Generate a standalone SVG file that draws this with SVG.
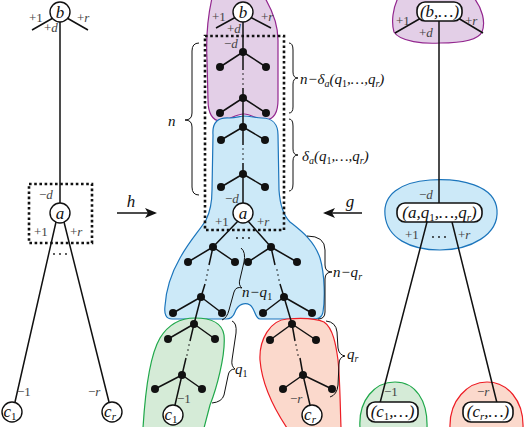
<svg xmlns="http://www.w3.org/2000/svg" width="524" height="427" viewBox="0 0 524 427">
<defs>
<style>
.e{stroke:#111;stroke-width:1.5;fill:none}
.c{fill:#fff;stroke:#111;stroke-width:1.4}
.d{fill:#111}
.box{fill:none;stroke:#111;stroke-width:2.6;stroke-dasharray:2.6 2.6}
.br{fill:none;stroke:#111;stroke-width:1}
.n{font-family:"Liberation Serif",serif;font-style:italic;font-size:17px;fill:#111;text-anchor:middle}
.l{font-family:"Liberation Serif",serif;font-size:13px;fill:#444}
.li{font-style:italic}
.t{font-family:"Liberation Serif",serif;font-style:italic;font-size:15px;fill:#111}
.rb{fill:#fff;stroke:#111;stroke-width:1.6}
</style>
<marker id="ah" viewBox="0 0 12 10" refX="10" refY="5" markerWidth="12" markerHeight="10" markerUnits="userSpaceOnUse" orient="auto">
<path d="M0,0 L12,5 L0,10 L3,5 Z" fill="#111"/>
</marker>
</defs>
<rect width="524" height="427" fill="#fff"/>

<g id="regions">
<path d="M212,-2 C207,20 206,40 207,60 L208,100 C208,112 212,122 222,121 C230,120 235,114 244,114 C252,114 258,121 266,120 C274,119 278,112 278,100 L278,40 C278,25 272,10 265,-2 Z" fill="#e3cfe7" stroke="#93278f" stroke-width="1.2"/>
<path d="M213,135 C212,122 218,117 230,118 C236,118 240,116 244,116 C250,116 256,118 262,118 C272,118 278,124 278,135 L279,190 C280,205 283,215 290,222 C300,230 314,240 320,258 C325,275 325,300 323,312 C322,318 318,319 312,319 L260,319 C255,319 255,308 250,305 C245,302 238,304 235,312 C233,318 230,319 226,319 L172,319 C166,319 164,314 165,306 C166,290 172,272 180,258 C190,240 200,230 206,220 C211,210 212,200 212,190 Z" fill="#cce9f8" stroke="#1b75bc" stroke-width="1.2"/>
<path d="M143,428 C145,395 150,355 160,338 C168,325 180,318 195,318 C210,318 222,322 224,335 C226,355 216,390 210,405 L204,428 Z" fill="#d5ebd7" stroke="#1fa84a" stroke-width="1.2"/>
<path d="M287,428 C275,410 262,385 260,360 C259,340 270,320 287,319 C300,318 315,318 324,322 C333,328 336,345 338,360 C340,380 340,400 341,428 Z" fill="#fbd9cc" stroke="#ed1c24" stroke-width="1.2"/>
<path d="M398,-2 C393,8 391,22 394,32 C400,42 425,44 440,43 C460,43 478,40 482,32 C486,22 482,8 474,-2 Z" fill="#e3cfe7" stroke="#93278f" stroke-width="1.2"/>
<path d="M385,215 C383,195 400,182 430,180 C460,178 495,185 497,210 C499,235 470,250 440,250 C410,250 387,238 385,215 Z" fill="#cce9f8" stroke="#1b75bc" stroke-width="1.2"/>
<path d="M360,428 C358,400 375,382 395,382 C415,382 428,400 427,428 Z" fill="#d5ebd7" stroke="#1fa84a" stroke-width="1.2"/>
<path d="M450,428 C449,400 468,382 487,382 C507,382 524,400 523,428 Z" fill="#fbd9cc" stroke="#ed1c24" stroke-width="1.2"/>
</g>

<g id="connectors">
<path class="e" d="M60,22 L60,203 M53,18 L32,30 M67,18 L88,30 M56,222 L15,402 M64,222 L109,402"/>
<path class="e" d="M243,22 L243,70 M243,88 L243,145 M243,163 L243,203"/>
<path class="e" d="M236,17 L216,28 M250,17 L271,28"/>
<path class="e" d="M243,52 L220,67 M243,52 L266,67 M243,98 L220,113 M243,98 L266,113 M243,127 L221,140 M243,127 L265,140 M243,174 L221,187 M243,174 L265,187"/>
<path class="e" d="M238,221 L213,247 M213,247 L188,262 M213,247 L235,262 M213,247 L209,265 M205,284 L201,297 M201,297 L173,313 M201,297 L222,313 M201,297 L194,324 M194,324 L168,339 M194,324 L215,339 M194,324 L190,341 M186,358 L182,375 M182,375 L155,389 M182,375 L202,389 M182,375 L175,405"/>
<path class="e" d="M248,221 L271,247 M271,247 L248,262 M271,247 L297,262 M271,247 L275,265 M280,284 L284,297 M284,297 L263,313 M284,297 L312,313 M284,297 L292,324 M292,324 L270,340 M292,324 L316,340 M292,324 L295,341 M300,358 L303,375 M303,375 L283,389 M303,375 L332,389 M303,375 L310,405"/>
<path class="e" d="M439,21 L439,203 M421,18 L395,33 M458,18 L483,33 M427,222 L380,403 M452,222 L497,403"/>
<path class="e" d="M117,213 L155,213" marker-end="url(#ah)"/>
<path class="e" d="M362,213 L325,213" marker-end="url(#ah)"/>
</g>

<g id="inner-nodes" class="d">
<circle cx="243" cy="52" r="4"/><circle cx="220" cy="67" r="4"/><circle cx="266" cy="67" r="4"/>
<circle cx="243" cy="98" r="4"/><circle cx="220" cy="113" r="4"/><circle cx="266" cy="113" r="4"/>
<circle cx="243" cy="127" r="4"/><circle cx="221" cy="140" r="4"/><circle cx="265" cy="140" r="4"/>
<circle cx="243" cy="174" r="4"/><circle cx="221" cy="187" r="4"/><circle cx="265" cy="187" r="4"/>
<circle cx="213" cy="247" r="4"/><circle cx="188" cy="262" r="4"/><circle cx="235" cy="262" r="4"/>
<circle cx="201" cy="297" r="4"/><circle cx="173" cy="313" r="4"/><circle cx="222" cy="313" r="4"/>
<circle cx="194" cy="324" r="4"/><circle cx="168" cy="339" r="4"/><circle cx="215" cy="339" r="4"/>
<circle cx="182" cy="375" r="4"/><circle cx="155" cy="389" r="4"/><circle cx="202" cy="389" r="4"/>
<circle cx="271" cy="247" r="4"/><circle cx="248" cy="262" r="4"/><circle cx="297" cy="262" r="4"/>
<circle cx="284" cy="297" r="4"/><circle cx="263" cy="313" r="4"/><circle cx="312" cy="313" r="4"/>
<circle cx="292" cy="324" r="4"/><circle cx="270" cy="340" r="4"/><circle cx="316" cy="340" r="4"/>
<circle cx="303" cy="375" r="4"/><circle cx="283" cy="389" r="4"/><circle cx="332" cy="389" r="4"/>
</g>
<g id="vdots" class="d">
<circle cx="243" cy="74" r="0.8"/><circle cx="243" cy="79" r="0.8"/><circle cx="243" cy="84" r="0.8"/>
<circle cx="243" cy="149" r="0.8"/><circle cx="243" cy="154" r="0.8"/><circle cx="243" cy="159" r="0.8"/>
<circle cx="208" cy="270" r="0.8"/><circle cx="207" cy="275" r="0.8"/><circle cx="206" cy="280" r="0.8"/>
<circle cx="189" cy="345" r="0.8"/><circle cx="188" cy="350" r="0.8"/><circle cx="187" cy="355" r="0.8"/>
<circle cx="277" cy="270" r="0.8"/><circle cx="278" cy="275" r="0.8"/><circle cx="279" cy="280" r="0.8"/>
<circle cx="296" cy="345" r="0.8"/><circle cx="297" cy="350" r="0.8"/><circle cx="298" cy="355" r="0.8"/>
<circle cx="54" cy="254" r="0.9"/><circle cx="60" cy="254" r="0.9"/><circle cx="66" cy="254" r="0.9"/>
<circle cx="237" cy="238" r="0.9"/><circle cx="243" cy="238" r="0.9"/><circle cx="249" cy="238" r="0.9"/>
<circle cx="433" cy="237" r="0.9"/><circle cx="439" cy="237" r="0.9"/><circle cx="445" cy="237" r="0.9"/>
</g>

<rect class="box" x="29" y="184" width="63" height="59"/>
<rect class="box" x="205" y="36" width="79" height="194"/>

<g id="braces" class="br">
<path d="M199,43 Q192,43 192,51 L192,113 Q192,120 185,120 Q192,120 192,127 L192,187 Q192,195 199,195"/>
<path d="M289,43 Q293,43 293,50 L293,72 Q293,78 298,78 Q293,78 293,84 L293,107 Q293,113 289,113"/>
<path d="M289,119 Q293,119 293,126 L293,149 Q293,155 298,155 Q293,155 293,161 L293,184 Q293,191 289,191"/>
<path d="M307,236 Q325,236 325,250 L325,265 Q325,272 332,272 Q325,272 325,279 L325,312 Q325,319 318,319"/>
<path d="M241,248 Q246,252 244,262 L240,279 Q238,285 242,288 Q236,286 234,292 L229,310 Q227,318 222,320"/>
<path d="M232,321 Q237,323 236,333 L232,360 Q231,366 235,369 Q229,369 228,376 L224,395 Q222,402 212,403"/>
<path d="M326,321 Q336,322 337,332 L338,348 Q339,355 345,356 Q339,357 339,364 L338,385 Q337,395 330,397"/>
</g>

<g id="left-b"><circle class="c" cx="60" cy="12" r="10"/><text class="n" x="60" y="18">b</text></g>
<g id="left-a"><circle class="c" cx="60" cy="213" r="10"/><text class="n" x="60" y="219">a</text></g>
<g id="left-c1"><circle class="c" cx="12" cy="412" r="10"/><text class="n" x="10" y="417">c<tspan font-size="11" font-style="normal" dy="3">1</tspan></text></g>
<g id="left-cr"><circle class="c" cx="112" cy="412" r="10"/><text class="n" x="110" y="417">c<tspan font-size="11" dy="3">r</tspan></text></g>

<g id="mid-b"><circle class="c" cx="243" cy="12" r="10"/><text class="n" x="243" y="18">b</text></g>
<g id="mid-a"><circle class="c" cx="243" cy="213" r="10"/><text class="n" x="243" y="219">a</text></g>
<g id="mid-c1"><circle class="c" cx="173" cy="415" r="10"/><text class="n" x="171" y="420">c<tspan font-size="11" font-style="normal" dy="3">1</tspan></text></g>
<g id="mid-cr"><circle class="c" cx="312" cy="415" r="10"/><text class="n" x="310" y="420">c<tspan font-size="11" dy="3">r</tspan></text></g>

<g id="right-b"><rect class="rb" x="417" y="2" width="45" height="19" rx="8"/><text class="n" x="439.5" y="17">(b,…)</text></g>
<g id="right-a"><rect class="rb" x="397" y="203" width="85" height="19" rx="8"/><text class="n" x="439.5" y="218">(a,q<tspan font-size="11" font-style="normal" dy="3">1</tspan><tspan dy="-3">,…,q</tspan><tspan font-size="11" dy="3">r</tspan><tspan dy="-3">)</tspan></text></g>
<g id="right-c1"><rect class="rb" x="367" y="402" width="51" height="20" rx="8"/><text class="n" x="392.5" y="417">(c<tspan font-size="11" font-style="normal" dy="3">1</tspan><tspan dy="-3">,…)</tspan></text></g>
<g id="right-cr"><rect class="rb" x="463" y="402" width="50" height="20" rx="8"/><text class="n" x="488" y="417">(c<tspan font-size="11" dy="3">r</tspan><tspan dy="-3">,…)</tspan></text></g>

<g id="edge-labels" class="l">
<text x="29" y="22">+1</text><text x="77" y="22">+<tspan class="li">r</tspan></text><text x="44" y="32">+<tspan class="li">d</tspan></text>
<text x="39" y="199">−<tspan class="li">d</tspan></text><text x="34" y="236">+1</text><text x="70" y="236">+<tspan class="li">r</tspan></text>
<text x="17" y="396">−1</text><text x="88" y="396">−<tspan class="li">r</tspan></text>
<text x="212" y="21">+1</text><text x="261" y="21">+<tspan class="li">r</tspan></text><text x="227" y="33">+<tspan class="li">d</tspan></text>
<text x="224" y="48">−<tspan class="li">d</tspan></text>
<text x="225" y="203">−<tspan class="li">d</tspan></text><text x="215" y="226">+1</text><text x="257" y="226">+<tspan class="li">r</tspan></text>
<text x="177" y="403">−1</text><text x="290" y="403">−<tspan class="li">r</tspan></text>
<text x="396" y="25">+1</text><text x="465" y="25">+<tspan class="li">r</tspan></text><text x="419" y="37">+<tspan class="li">d</tspan></text>
<text x="419" y="199">−<tspan class="li">d</tspan></text><text x="405" y="239">+1</text><text x="458" y="239">+<tspan class="li">r</tspan></text>
<text x="384" y="396">−1</text><text x="477" y="396">−<tspan class="li">r</tspan></text>
</g>

<g id="brace-labels" class="t">
<text x="168" y="126">n</text>
<text x="300" y="84">n−δ<tspan font-size="10" dy="3">a</tspan><tspan dy="-3">(q</tspan><tspan font-size="10" font-style="normal" dy="3">1</tspan><tspan dy="-3">,…,q</tspan><tspan font-size="10" dy="3">r</tspan><tspan dy="-3">)</tspan></text>
<text x="302" y="161">δ<tspan font-size="10" dy="3">a</tspan><tspan dy="-3">(q</tspan><tspan font-size="10" font-style="normal" dy="3">1</tspan><tspan dy="-3">,…,q</tspan><tspan font-size="10" dy="3">r</tspan><tspan dy="-3">)</tspan></text>
<text x="333" y="277">n−q<tspan font-size="10" dy="3">r</tspan></text>
<text x="242" y="297">n−q<tspan font-size="10" font-style="normal" dy="3">1</tspan></text>
<text x="235" y="374">q<tspan font-size="10" font-style="normal" dy="3">1</tspan></text>
<text x="347" y="359">q<tspan font-size="10" dy="3">r</tspan></text>
</g>

<text class="n" x="131" y="207" font-size="19">h</text>
<text class="n" x="350" y="207" font-size="19">g</text>
</svg>
